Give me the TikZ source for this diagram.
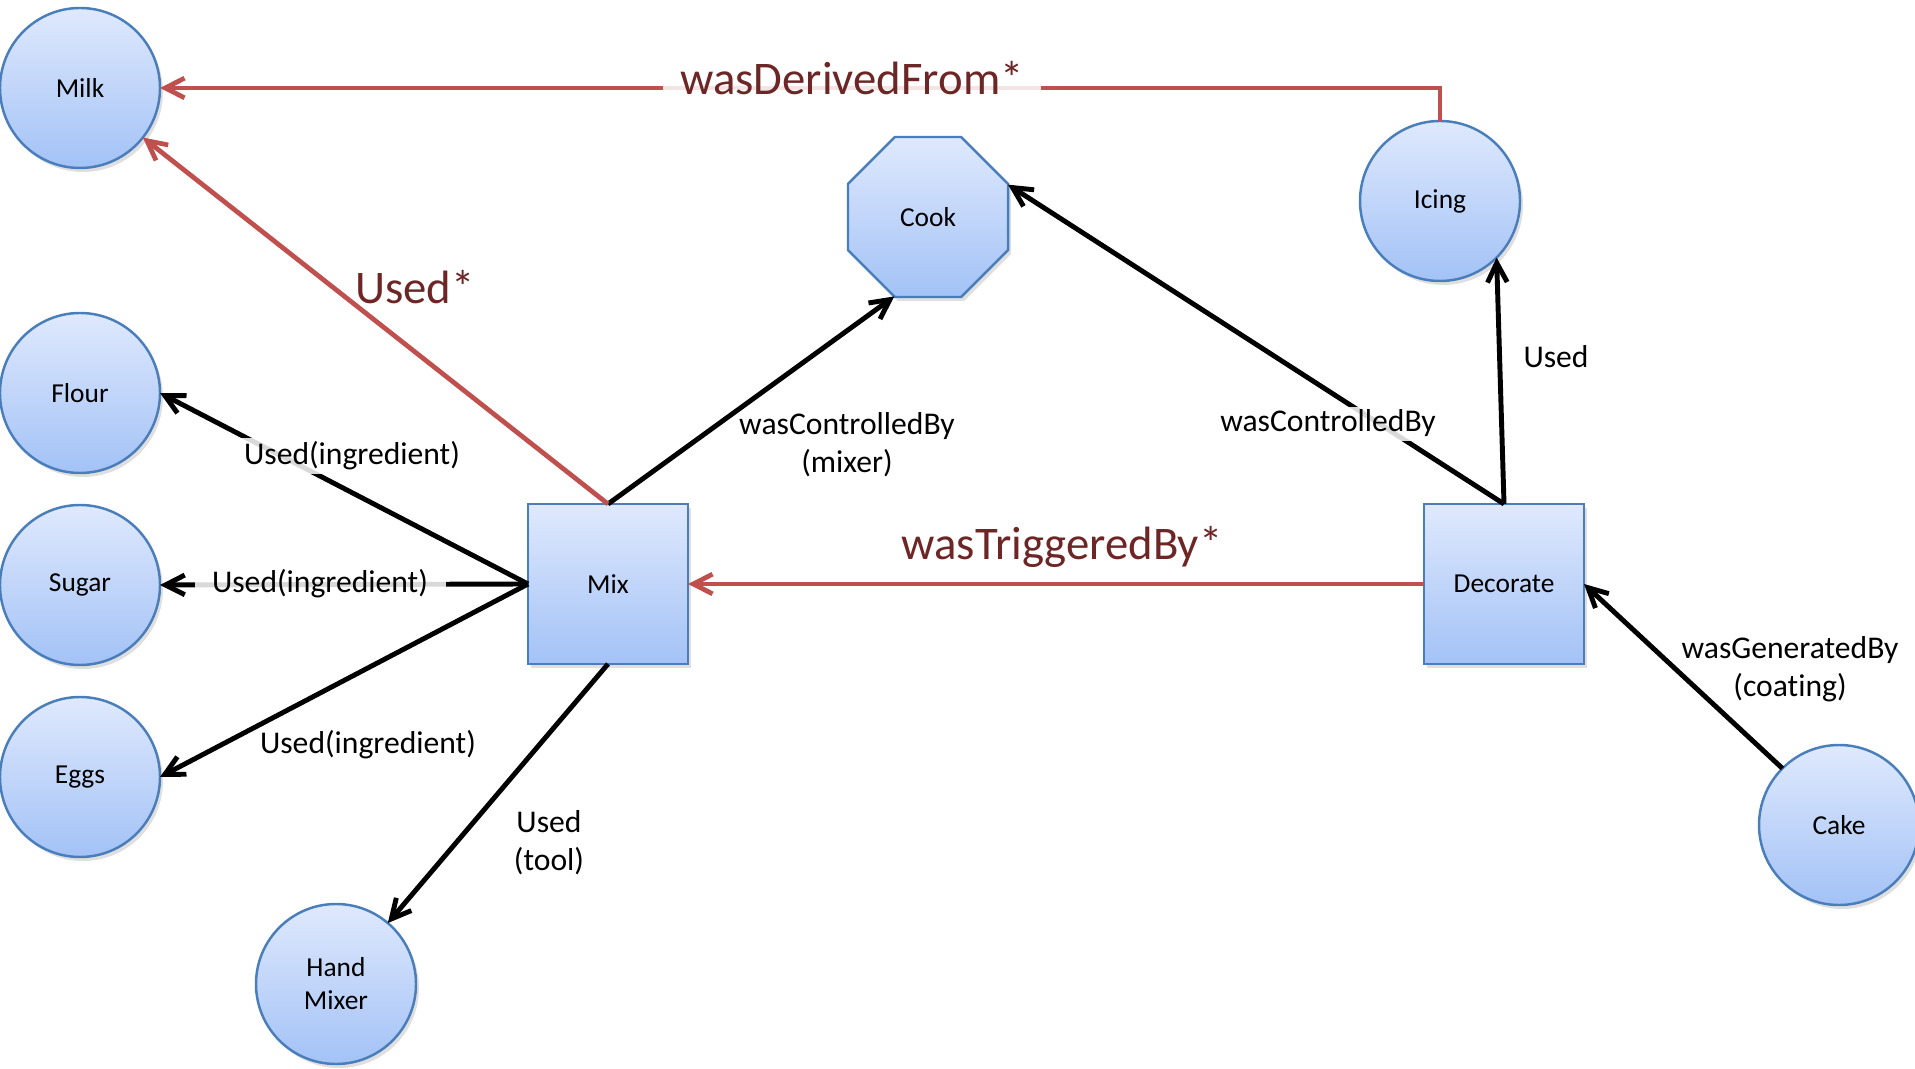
\documentclass[tikz,border=0pt]{standalone}
\usepackage{fontspec}
\setmainfont{Carlito}[Ligatures=NoCommon]
\usepackage{tikz}
\usetikzlibrary{arrows.meta,shapes.geometric,shadows}
\definecolor{nodetop}{HTML}{DFE9FD}
\definecolor{nodebot}{HTML}{A3C2F6}
\definecolor{nodeline}{HTML}{4A7EBB}
\definecolor{relline}{HTML}{C0504D}
\definecolor{reltext}{HTML}{6E2525}

\begin{document}
\begin{tikzpicture}[
        ent/.style={circle, minimum size=1.6cm, inner sep=0pt, outer sep=0pt, draw=nodeline, line width=0.7pt,
            top color=nodetop, bottom color=nodebot, align=center, font=\fontsize{7.8}{9.4}\selectfont,
            drop shadow={shadow xshift=0.03cm, shadow yshift=-0.04cm, opacity=0.25}},
        act/.style={ent, rectangle},
        agt/.style={ent, regular polygon, regular polygon sides=8, minimum size=1.732cm},
        rel/.style={line width=1.4pt, -{Straight Barb[length=5.5pt,width=5.6pt]}},
        relstar/.style={rel, draw=relline, line width=1.35pt},
        lbl/.style={font=\fontsize{9}{10.8}\selectfont, align=center, inner sep=1pt},
        lblstar/.style={font=\fontsize{13.3}{16}\selectfont, text=reltext, inner sep=1pt},
        mask/.style={fill=white, fill opacity=0.85, text opacity=1, inner xsep=5pt}]
        \useasboundingbox (0,0) rectangle (19.15,10.68);
        %%Entities
        \node[ent] (milk) at (0.80,9.80) {Milk};
        \node[ent] (flour) at (0.80,6.75) {Flour};
        \node[ent] (sugar) at (0.80,4.83) {Sugar};
        \node[ent] (eggs) at (0.80,2.91) {Eggs};
        \node[ent] (hand) at (3.36,0.84) {Hand\\Mixer};
        \node[ent] (icing) at (14.40,8.67) {Icing};
        \node[ent] (cake) at (18.39,2.43) {Cake};
        %%Activities_and_agent
        \node[act] (mix) at (6.08,4.84) {Mix};
        \node[act] (deco) at (15.04,4.84) {Decorate};
        \node[agt] (cook) at (9.28,8.51) {Cook};
        %%Black_edges
        \draw[rel] (mix.west) -- (flour.east);
        \draw[rel] (mix.west) -- (sugar.east);
        \draw[rel] (mix.west) -- (eggs.east);
        \draw[rel] (mix.south) -- (hand);
        \draw[rel] (mix.north) -- (cook.247.5);
        \draw[rel] (deco.north) -- (cook.22.5);
        \draw[rel] (deco.north) -- (icing.-45);
        \draw[rel] (cake.135) -- (deco.east);
        %%Red_edges
        \draw[relstar] (mix.north) -- (milk);
        \draw[relstar] (deco.west) -- (mix.east);
        \draw[relstar] (icing.north) |- (milk.east);
        %%Labels
        \node[lblstar, anchor=base, mask] (derived) at (8.52,9.73) {wasDerivedFrom*};
        \node[lblstar, anchor=base] (usedstar) at (4.15,7.64) {Used*};
        \node[lblstar, anchor=base] (triggered) at (10.62,5.08) {wasTriggeredBy*};
        \node[lbl, anchor=base, mask] (uflour) at (3.52,6.03) {Used(ingredient)};
        \node[lbl, anchor=base, mask] (usugar) at (3.20,4.75) {Used(ingredient)};
        \node[lbl, anchor=base] (ueggs) at (3.68,3.15) {Used(ingredient)};
        \node[lbl] (utool) at (5.49,2.25) {Used\\(tool)};
        \node[lbl] (cmixer) at (8.47,6.23) {wasControlledBy\\(mixer)};
        \node[lbl, anchor=base, mask] (cdeco) at (13.28,6.36) {wasControlledBy};
        \node[lbl, anchor=base] (uicing) at (15.56,7.00) {Used};
        \node[lbl] (gcoat) at (17.90,3.99) {wasGeneratedBy\\(coating)};
\end{tikzpicture}
\end{document}
